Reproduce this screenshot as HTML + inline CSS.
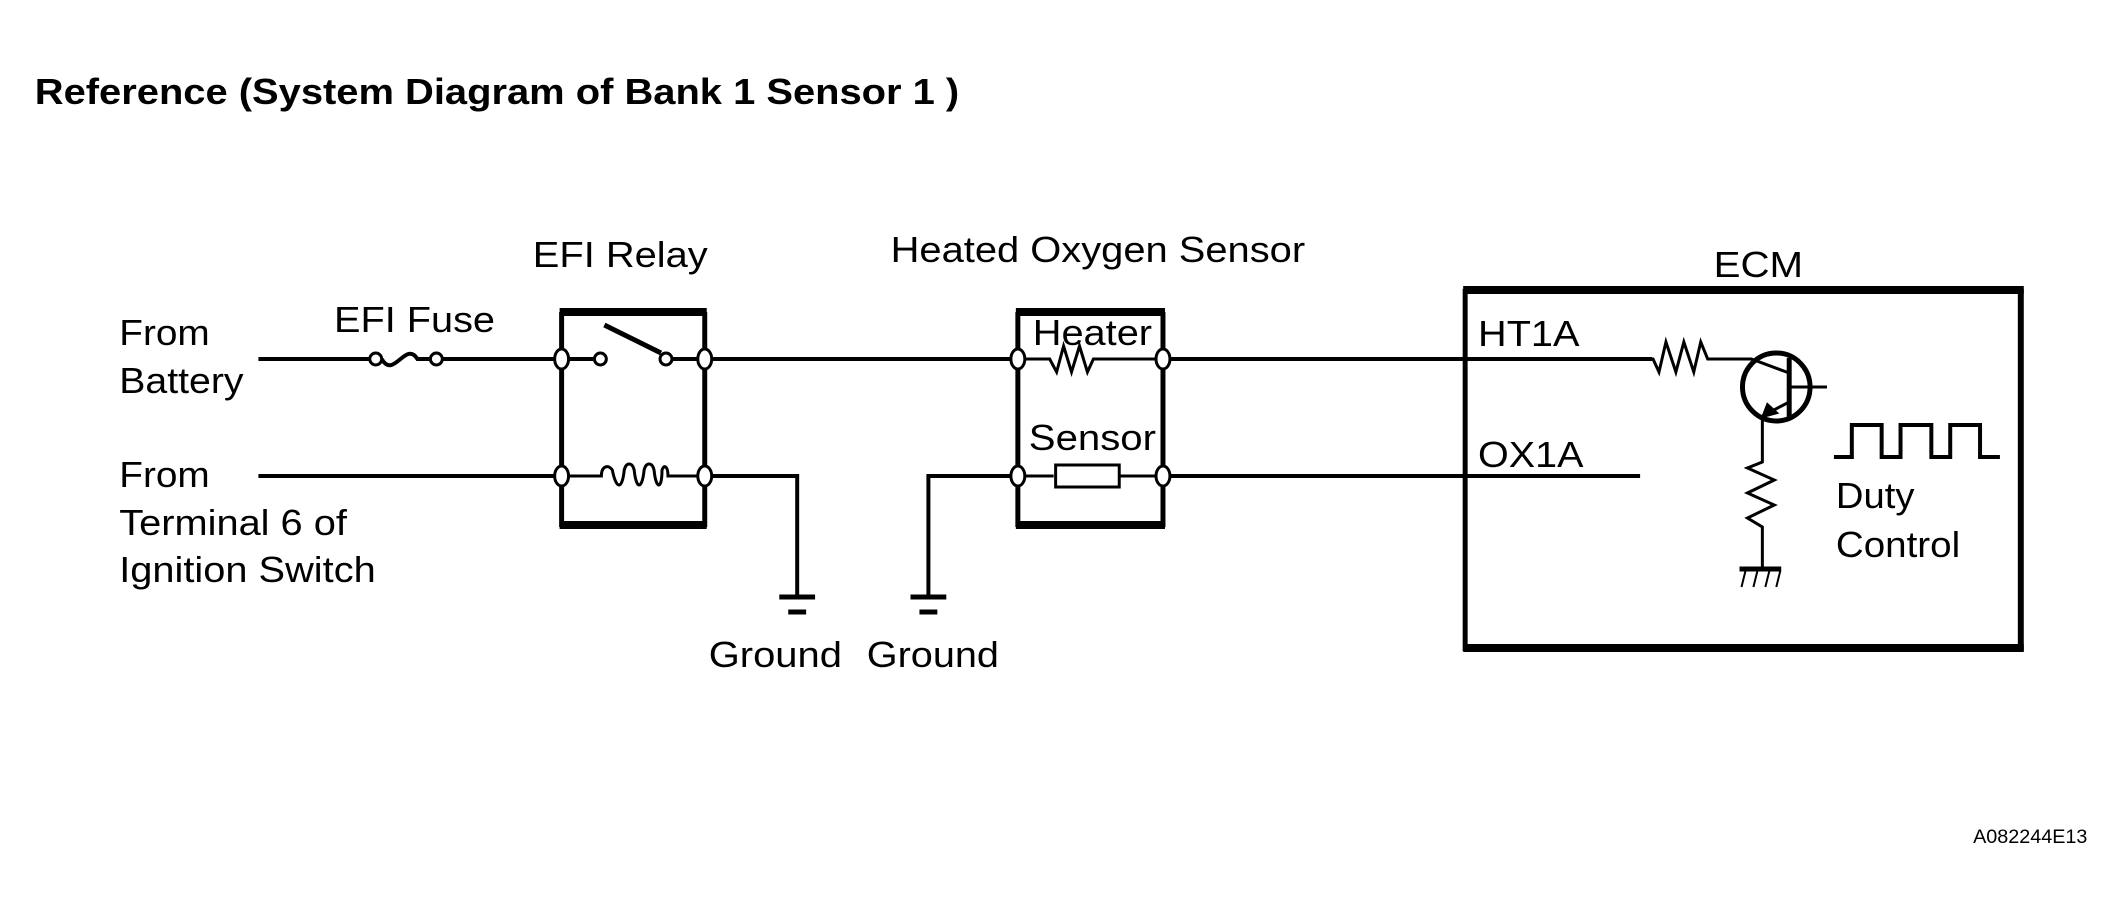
<!DOCTYPE html>
<html><head><meta charset="utf-8"><style>html,body{margin:0;padding:0;background:#fff}svg{display:block}text{font-family:"Liberation Sans",Arial,sans-serif;fill:#000}</style></head>
<body>
<svg width="2124" height="913" viewBox="0 0 2124 913" xmlns="http://www.w3.org/2000/svg">
<g transform="scale(0.994,1)">
<g font-size="36">
<text x="35" y="104" font-weight="bold" textLength="930" lengthAdjust="spacingAndGlyphs">Reference (System Diagram of Bank 1 Sensor 1 )</text>
<text x="120" y="345" textLength="91" lengthAdjust="spacingAndGlyphs">From</text>
<text x="120" y="393" textLength="125" lengthAdjust="spacingAndGlyphs">Battery</text>
<text x="120" y="487" textLength="91" lengthAdjust="spacingAndGlyphs">From</text>
<text x="120" y="535" textLength="229" lengthAdjust="spacingAndGlyphs">Terminal 6 of</text>
<text x="120" y="582" textLength="258" lengthAdjust="spacingAndGlyphs">Ignition Switch</text>
<text x="336" y="332" textLength="162" lengthAdjust="spacingAndGlyphs">EFI Fuse</text>
<text x="536" y="267" textLength="176" lengthAdjust="spacingAndGlyphs">EFI Relay</text>
<text x="896" y="262" textLength="417" lengthAdjust="spacingAndGlyphs">Heated Oxygen Sensor</text>
<text x="1724" y="277" textLength="90" lengthAdjust="spacingAndGlyphs">ECM</text>
<text x="1039" y="345" textLength="120" lengthAdjust="spacingAndGlyphs">Heater</text>
<text x="1035" y="450" textLength="128" lengthAdjust="spacingAndGlyphs">Sensor</text>
<text x="1487" y="346" textLength="102" lengthAdjust="spacingAndGlyphs">HT1A</text>
<text x="1487" y="467" textLength="106" lengthAdjust="spacingAndGlyphs">OX1A</text>
<text x="713" y="667" textLength="134" lengthAdjust="spacingAndGlyphs">Ground</text>
<text x="872" y="667" textLength="133" lengthAdjust="spacingAndGlyphs">Ground</text>
<text x="1847" y="508" textLength="79" lengthAdjust="spacingAndGlyphs">Duty</text>
<text x="1847" y="557" textLength="125" lengthAdjust="spacingAndGlyphs">Control</text>
</g>
<text x="1985" y="843" font-size="19" textLength="115" lengthAdjust="spacingAndGlyphs">A082244E13</text>

<g stroke="#000" fill="none" stroke-width="4">
<line x1="260" y1="359" x2="372" y2="359"/>
<line x1="445" y1="359" x2="598" y2="359"/>
<line x1="709" y1="359" x2="1024" y2="359"/>
<line x1="1170" y1="359" x2="1662" y2="359"/>
<line x1="260" y1="476" x2="565" y2="476"/>
<polyline points="709,476 802,476 802,596"/>
<polyline points="1024,476 934,476 934,596"/>
<line x1="1170" y1="476" x2="1650" y2="476"/>
<path d="M384,359 C396,380 408,340 420,359 L432,359" stroke-width="4"/>
<line x1="565" y1="312" x2="565" y2="527" stroke-width="5"/>
<line x1="709" y1="312" x2="709" y2="527" stroke-width="5"/>
<line x1="563" y1="312" x2="711" y2="312" stroke-width="8"/>
<line x1="563" y1="525" x2="711" y2="525" stroke-width="8"/>
<line x1="565" y1="359" x2="600" y2="359"/>
<line x1="608" y1="325" x2="665" y2="353" stroke-width="5"/>
<line x1="676" y1="359" x2="709" y2="359"/>
<path d="M565,476 L605,476 C605,466 612,464 616,470 C620,490 626,490 628,470 C630,462 636,462 638,470 C640,490 646,490 648,470 C650,462 656,462 658,470 C660,490 666,490 666,470 C668,464 672,466 672,476 L709,476" stroke-width="3"/>
<line x1="1024" y1="312" x2="1024" y2="527" stroke-width="5"/>
<line x1="1170" y1="312" x2="1170" y2="527" stroke-width="5"/>
<line x1="1022" y1="312" x2="1172" y2="312" stroke-width="8"/>
<line x1="1022" y1="525" x2="1172" y2="525" stroke-width="8"/>
<polyline points="1024,359 1056,359 1063,372 1070,346 1078,372 1086,346 1094,372 1100,359 1170,359" stroke-width="3"/>
<line x1="1024" y1="476" x2="1060" y2="476" stroke-width="3"/>
<rect x="1062" y="465" width="64" height="22" stroke-width="3"/>
<line x1="1126" y1="476" x2="1170" y2="476" stroke-width="3"/>
<line x1="784" y1="597" x2="820" y2="597" stroke-width="5"/>
<line x1="793" y1="612" x2="811" y2="612" stroke-width="5"/>
<line x1="916" y1="597" x2="952" y2="597" stroke-width="5"/>
<line x1="925" y1="612" x2="943" y2="612" stroke-width="5"/>
<line x1="1474" y1="289" x2="1474" y2="651" stroke-width="5"/>
<line x1="2033" y1="289" x2="2033" y2="651" stroke-width="6"/>
<line x1="1472" y1="290" x2="2036" y2="290" stroke-width="8"/>
<line x1="1472" y1="648" x2="2036" y2="648" stroke-width="8"/>
<polyline points="1660,359 1663,359 1669,372 1676,342 1686,372 1694,342 1704,372 1711,342 1718,359 1762,359 1800,373" stroke-width="3"/>
<circle cx="1787" cy="387" r="34" stroke-width="5"/>
<line x1="1800" y1="358" x2="1800" y2="417" stroke-width="5"/>
<line x1="1800" y1="387" x2="1838" y2="387" stroke-width="3"/>
<line x1="1800" y1="402" x2="1773" y2="416" stroke-width="3"/>
<polygon points="1773,417 1778,404 1788,413" fill="#000" stroke-width="2"/>
<polyline points="1773,416 1773,462 1758,468 1785,480 1758,493 1785,505 1758,518 1773,527 1773,568" stroke-width="3"/>
<line x1="1750" y1="569" x2="1792" y2="569" stroke-width="5"/>
<line x1="1756" y1="571" x2="1752" y2="587" stroke-width="2"/>
<line x1="1768" y1="571" x2="1764" y2="587" stroke-width="2"/>
<line x1="1780" y1="571" x2="1776" y2="587" stroke-width="2"/>
<line x1="1791" y1="571" x2="1787" y2="587" stroke-width="2"/>
<polyline points="1845,457 1863,457 1863,425 1893,425 1893,457 1912,457 1912,425 1943,425 1943,457 1962,457 1962,425 1992,425 1992,457 2012,457" stroke-width="4"/>
</g>
<g stroke="#000" stroke-width="3" fill="#fff">
<circle cx="378" cy="359" r="6"/><circle cx="439" cy="359" r="6"/>
<circle cx="604" cy="359" r="6"/><circle cx="670" cy="359" r="6"/>
<ellipse cx="565" cy="359" rx="7" ry="10"/><ellipse cx="709" cy="359" rx="7" ry="10"/>
<ellipse cx="565" cy="476" rx="7" ry="10"/><ellipse cx="709" cy="476" rx="7" ry="10"/>
<ellipse cx="1024" cy="359" rx="7" ry="10"/><ellipse cx="1170" cy="359" rx="7" ry="10"/>
<ellipse cx="1024" cy="476" rx="7" ry="10"/><ellipse cx="1170" cy="476" rx="7" ry="10"/>
</g>
</g>
</svg>
</body></html>
